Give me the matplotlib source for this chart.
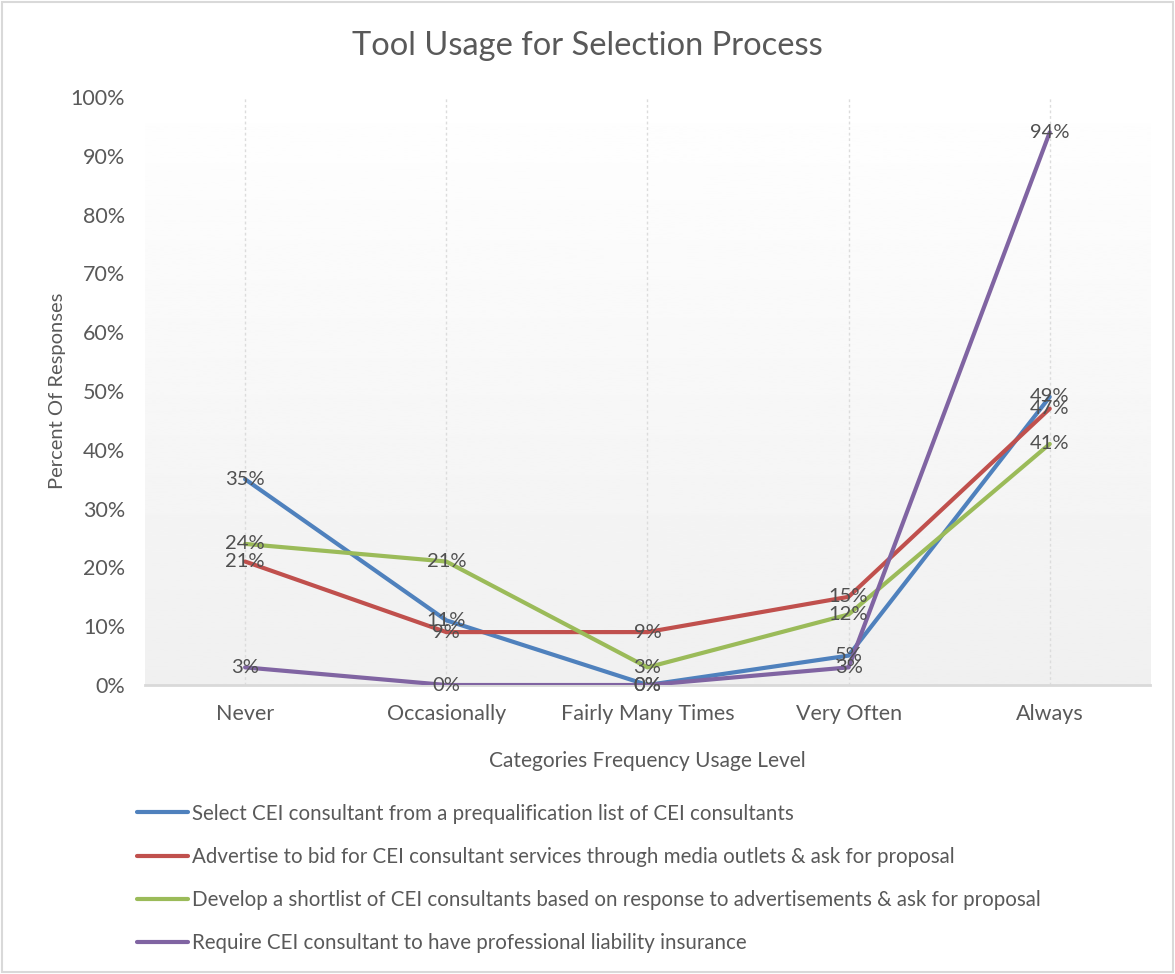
import matplotlib.pyplot as plt
import numpy as np
from matplotlib.patches import Rectangle

plt.rcParams['font.family'] = ['Lato', 'DejaVu Sans']

categories = ["Never", "Occasionally", "Fairly Many Times", "Very Often", "Always"]
series_names = [
    "Select CEI consultant from a prequalification list of CEI consultants",
    "Advertise to bid for CEI consultant services through media outlets & ask for proposal",
    "Develop a shortlist of CEI consultants based on response to advertisements & ask for proposal",
    "Require CEI consultant to have professional liability insurance",
]
select_prequal = [35, 11, 0, 5, 49]
advertise_bid = [21, 9, 9, 15, 47]
shortlist = [24, 21, 3, 12, 41]
liability_ins = [3, 0, 0, 3, 94]
colors = ["#4F81BD", "#C0504D", "#9BBB59", "#8064A2"]

txt = "#595959"

fig = plt.figure(figsize=(11.75, 9.74), dpi=100)
fig.patches.append(Rectangle((0.002, 0.002), 0.996, 0.996, transform=fig.transFigure,
                             fill=False, edgecolor="#d9d9d9", linewidth=1.5))

ax = fig.add_axes([0.123, 0.2967, 0.856, 0.6037])
x = np.arange(len(categories))
ax.set_xlim(-0.5, len(categories) - 0.5)

# soft vertical gradient behind the plot area
grad = np.linspace(0.94, 1.0, 256).reshape(-1, 1)
ax.imshow(grad, cmap="gray", vmin=0, vmax=1, aspect="auto",
          extent=(-0.5, len(categories) - 0.5, 0, 102), origin="lower", zorder=0)
ax.set_ylim(0, 100)

for xi in x:
    ax.axvline(xi, color="#dcdcdc", linestyle=(0, (2, 2)), linewidth=1, zorder=1)

all_series = [select_prequal, advertise_bid, shortlist, liability_ins]
handles = []
for vals, name, col in zip(all_series, series_names, colors):
    h, = ax.plot(x, vals, color=col, linewidth=3, solid_capstyle="round", label=name, zorder=3)
    handles.append(h)
    for xi, v in zip(x, vals):
        ax.text(xi, v, f"{v}%", ha="center", va="center", fontsize=14.5, color="#505050", zorder=4)

for s in ["top", "right", "left"]:
    ax.spines[s].set_visible(False)
ax.spines["bottom"].set_color("#d9d9d9")
ax.spines["bottom"].set_linewidth(2)

ax.set_yticks(np.arange(0, 101, 10))
ax.set_yticklabels([f"{v}%" for v in range(0, 101, 10)])
ax.set_xticks(x)
ax.set_xticklabels(categories)
ax.tick_params(axis="both", length=0, labelsize=15.5, labelcolor=txt)
ax.tick_params(axis="y", pad=14)
ax.tick_params(axis="x", pad=14)

ax.set_ylabel("Percent Of Responses", fontsize=14.5, color=txt, labelpad=3)
ax.set_xlabel("Categories Frequency Usage Level", fontsize=15, color=txt, labelpad=19)

fig.text(0.5, 0.953, "Tool Usage for Selection Process", ha="center", va="center",
         fontsize=23.5, color=txt)

fig.legend(handles=handles, labels=series_names, loc="upper left",
           bbox_to_anchor=(0.101, 0.194), frameon=False, fontsize=14.8,
           handlelength=2.45, handletextpad=0.2, labelspacing=1.13, labelcolor=txt)

fig.savefig("out.png", dpi=100)
